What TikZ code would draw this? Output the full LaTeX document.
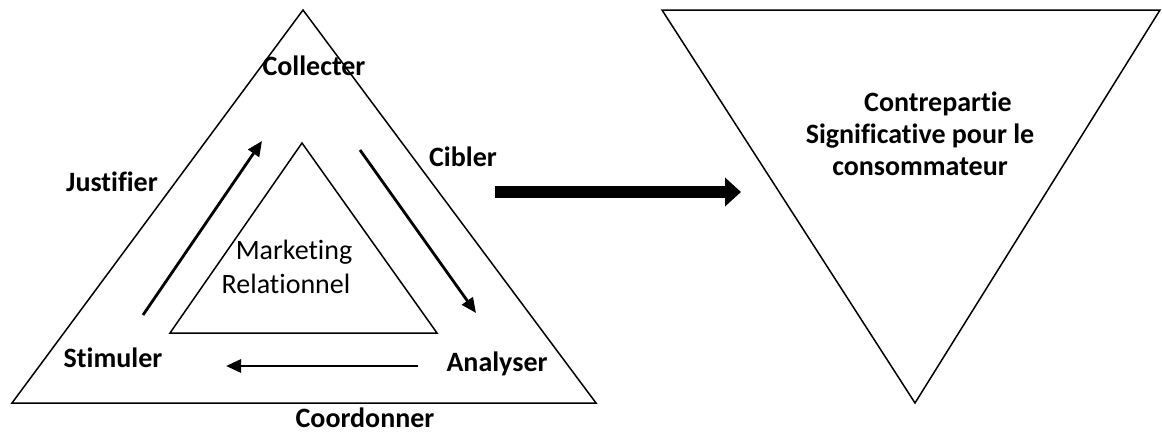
\documentclass[tikz,border=0pt]{standalone}
\usepackage{fontspec}
\setmainfont{Carlito}[Ligatures=CommonOff]
\usetikzlibrary{arrows.meta}
\begin{document}
\begin{tikzpicture}[x=1pt,y=-1pt,
  tri/.style={draw=black,line width=1.5pt,line join=miter},
  lbl/.style={font=\fontsize{28}{32}\selectfont\bfseries,inner sep=0pt},
  inlbl/.style={font=\fontsize{28}{34}\selectfont,inner sep=0pt,align=center},
  flow/.style={line width=2.8pt,-{Triangle[length=15pt,width=13pt]}},
  big/.style={line width=12pt,-{Triangle[length=16pt,width=28pt]}}]
\useasboundingbox (0,0) rectangle (1162,434);
% outer triangle
\coordinate (oA) at (303,10);
\coordinate (oL) at (12,403);
\coordinate (oR) at (596,403);
\draw[tri] (oA) -- (oL) -- (oR) -- cycle;
% inner triangle
\coordinate (iA) at (302,143);
\coordinate (iL) at (170,333);
\coordinate (iR) at (437,333);
\draw[tri] (iA) -- (iL) -- (iR) -- cycle;
% right triangle
\coordinate (rL) at (662,10);
\coordinate (rR) at (1160,10);
\coordinate (rB) at (915,403);
\draw[tri] (rL) -- (rR) -- (rB) -- cycle;
% labels
\node[lbl] (collecter) at (314,66) {Collecter};
\node[lbl] (cibler) at (463,157) {Cibler};
\node[lbl] (justifier) at (112,182) {Justifier};
\node[lbl] (stimuler) at (113,358) {Stimuler};
\node[lbl] (analyser) at (497,364) {Analyser};
\node[lbl] (coordonner) at (365,418) {Coordonner};
\node[inlbl] (mr) at (286,267) {\hspace*{16pt}Marketing\\Relationnel};
\node[lbl,align=center] (contre) at (920,134)
  {\hspace*{36pt}Contrepartie\\Significative pour le\\consommateur};
% flow arrows
\coordinate (a1s) at (143,315);
\coordinate (a1e) at (262,141);
\coordinate (a2s) at (360,150);
\coordinate (a2e) at (476,313);
\coordinate (a3s) at (418,366);
\coordinate (a3e) at (226,366);
\draw[flow] (a1s) -- (a1e);
\draw[flow] (a2s) -- (a2e);
\draw[flow] (a3s) -- (a3e);
% big arrow
\coordinate (bs) at (495,192);
\coordinate (be) at (741,192);
\draw[big] (bs) -- (be);
\end{tikzpicture}
\end{document}
